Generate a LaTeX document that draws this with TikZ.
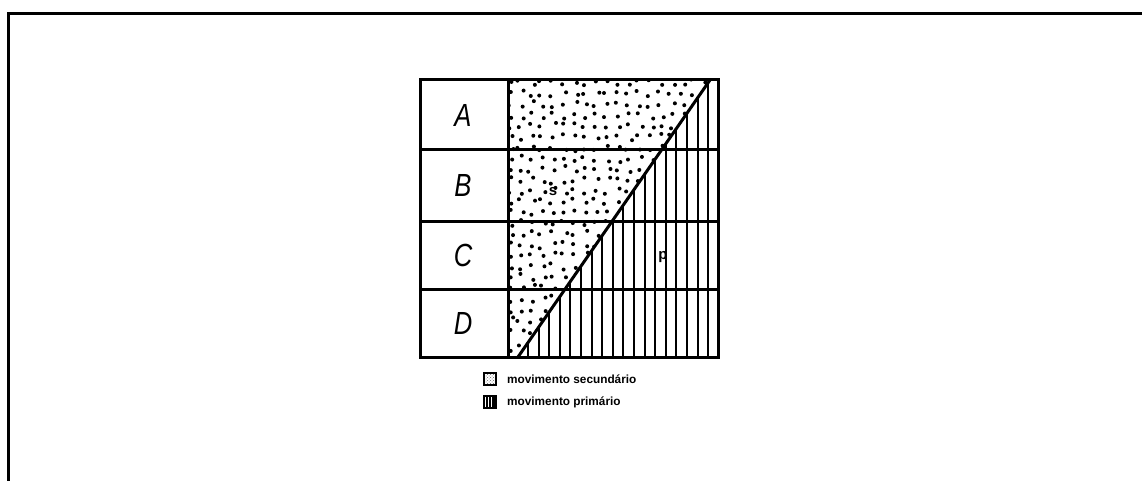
\documentclass[tikz,border=0pt]{standalone}
\usepackage{fontspec}
\setmainfont{Liberation Sans}
\usetikzlibrary{patterns}

\begin{document}
\begin{tikzpicture}[x=1pt,y=-1pt]
\tikzset{gridline/.style={line width=3pt},hatch/.style={line width=2.1pt},
  rowlabel/.style={font=\fontsize{32}{32}\selectfont\itshape,inner sep=0},
  zone/.style={font=\fontsize{15}{15}\selectfont\bfseries,inner sep=0},
  legendtext/.style={font=\fontsize{11.8}{12}\selectfont\bfseries,anchor=west,inner sep=0}}
\useasboundingbox (0,0) rectangle (1142,481);
\draw[line width=3pt] (8,482)--(8,14)--(1143,14);
% secondary movement (stipple)
\begin{scope}
\clip (508,80)--(710,80)--(518,357)--(508,357)--cycle;
\pgfmathsetseed{11}
\foreach \i in {0,...,19}{\foreach \j in {0,...,25}{
  \fill ({510+\i*10.8+3.5*rand},{83+\j*10.8+3.5*rand}) circle (2);}}
\end{scope}
% primary movement (hatching)
\begin{scope}
\clip (518,357)--(710,80)--(718,80)--(718,357)--cycle;
\foreach \k in {0,...,17} \draw[hatch] ({528+\k*10.6},80)--({528+\k*10.6},357);
\end{scope}
% grid
\draw[gridline] (420,80) rectangle (718,357);
\draw[gridline] (508,80)--(508,357);
\foreach \y in {150,221,289} \draw[gridline] (420,\y)--(718,\y);
\draw[gridline] (518,357)--(710,80);
\foreach \n/\y in {A/115,B/185.5,C/255,D/323}
  \node[rowlabel] (lbl\n) at (463,\y) {\scalebox{0.8}[1]{\n}};
\node[zone] (zs) at (553,192) {s};
\node[zone] (zp) at (663,257) {p};
% legend
\draw[line width=2pt,pattern=crosshatch dots,pattern color=black!60] (484,373) rectangle (496,385);
\draw[line width=2pt] (484,396) rectangle (496,408);
\foreach \x in {486.5,489.5,492.5,495} \draw[line width=2pt] (\x,396)--(\x,408);
\node[legendtext] (legsec) at (507,379) {movimento secundário};
\node[legendtext] (legpri) at (507,402) {movimento primário};
\end{tikzpicture}
\end{document}
